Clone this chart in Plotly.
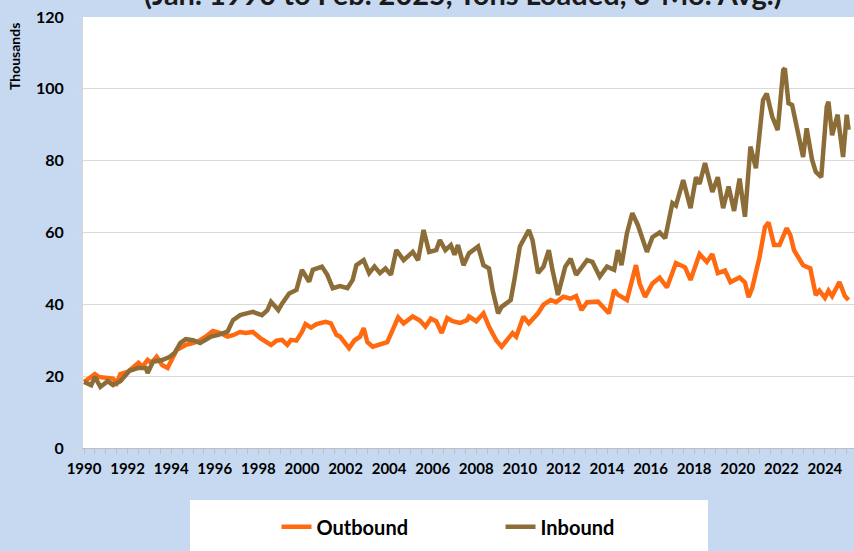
import plotly.graph_objects as go

# ---- data (thousand tons, 3-month average) ----
out_months = ["1990-01","1990-07","1990-09","1991-01","1991-05","1991-07","1991-09","1992-01","1992-04","1992-07",
 "1992-09","1992-12","1993-02","1993-05","1993-08","1993-11","1994-04","1994-07","1994-09","1995-01",
 "1995-05","1995-08","1995-12","1996-04","1996-08","1996-11","1997-03","1997-06","1997-10","1998-02",
 "1998-06","1998-08","1998-11","1999-02","1999-05","1999-07","1999-10","2000-01","2000-03","2000-06",
 "2000-09","2001-02","2001-05","2001-08","2001-10","2002-03","2002-06","2002-09","2002-11","2003-01",
 "2003-04","2003-08","2003-12","2004-03","2004-06","2004-09","2005-02","2005-06","2005-09","2005-12",
 "2006-03","2006-06","2006-09","2006-12","2007-04","2007-08","2007-09","2008-01","2008-05","2008-08",
 "2008-12","2009-03","2009-06","2009-09","2009-11","2010-03","2010-06","2010-11","2011-02","2011-06",
 "2011-09","2012-01","2012-05","2012-08","2012-11","2013-02","2013-08","2013-11","2014-02","2014-05",
 "2014-07","2014-12","2015-05","2015-07","2015-10","2016-02","2016-06","2016-10","2017-03","2017-08",
 "2017-11","2018-04","2018-08","2018-11","2019-02","2019-06","2019-09","2020-02","2020-05","2020-07",
 "2020-09","2021-01","2021-04","2021-06","2021-09","2021-12","2022-04","2022-06","2022-08","2023-01",
 "2023-05","2023-08","2023-10","2024-01","2024-03","2024-05","2024-09","2024-12","2025-02"]
outbound = [18.4,20.6,19.8,19.5,19.3,18.1,20.6,21.2,22.5,23.7,
 22.6,24.5,23.7,25.4,23.1,22.3,27.3,28.1,28.7,29.2,
 30.0,31.0,32.6,32.0,31.0,31.4,32.3,32.0,32.3,30.6,
 29.2,28.7,29.9,30.1,28.7,30.1,29.9,32.3,34.5,33.5,
 34.5,35.1,34.7,31.5,31.0,27.8,30.0,31.0,33.4,29.5,
 28.2,28.9,29.5,32.9,36.4,34.7,36.6,35.5,33.8,36.0,
 35.3,32.0,36.2,35.3,34.8,35.6,36.6,35.3,37.5,33.8,
 30.0,28.2,30.0,32.0,31.0,36.6,34.7,37.5,39.9,41.2,
 40.6,42.1,41.6,42.3,38.4,40.6,40.8,39.3,37.5,44.0,
 42.7,41.2,50.9,45.8,42.1,45.8,47.4,44.7,51.5,50.3,
 46.8,54.0,51.8,54.0,48.7,49.4,46.2,47.5,46.1,42.0,
 44.6,53.2,61.5,62.8,56.5,56.5,61.2,59.3,55.1,50.9,
 50.0,42.6,43.8,41.8,43.8,42.3,46.2,42.3,41.2]

in_months = ["1990-01","1990-05","1990-07","1990-10","1991-02","1991-05","1991-09","1991-12","1992-02","1992-07",
 "1992-11","1992-12","1993-03","1993-08","1993-12","1994-03","1994-06","1994-09","1995-01","1995-05",
 "1995-08","1995-11","1996-03","1996-08","1996-11","1997-03","1997-06","1997-10","1998-03","1998-06",
 "1998-08","1998-12","1999-02","1999-06","1999-10","2000-01","2000-05","2000-07","2000-12","2001-03",
 "2001-06","2001-10","2002-02","2002-05","2002-07","2002-11","2003-02","2003-05","2003-08","2003-11",
 "2004-02","2004-05","2004-09","2005-02","2005-05","2005-08","2005-11","2006-03","2006-05","2006-08",
 "2006-11","2007-01","2007-03","2007-06","2007-09","2008-02","2008-05","2008-08","2008-10","2009-01",
 "2009-03","2009-08","2009-10","2010-01","2010-03","2010-06","2010-08","2010-11","2011-02","2011-05",
 "2011-07","2011-10","2012-02","2012-05","2012-08","2013-02","2013-05","2013-09","2014-01","2014-05",
 "2014-07","2014-09","2014-12","2015-03","2015-06","2015-11","2016-02","2016-06","2016-09","2017-01",
 "2017-03","2017-07","2017-11","2018-02","2018-04","2018-07","2018-11","2019-02","2019-05","2019-08",
 "2019-11","2020-02","2020-05","2020-08","2020-11","2021-03","2021-05","2021-08","2021-11","2022-02",
 "2022-03","2022-05","2022-07","2022-11","2023-01","2023-03","2023-06","2023-08","2023-11","2024-02",
 "2024-03","2024-05","2024-08","2024-11","2025-01","2025-02"]
inbound = [18.4,17.5,19.8,17.0,18.6,17.5,18.6,20.6,21.5,22.3,
 22.3,20.9,24.0,24.5,25.3,26.5,29.2,30.3,30.0,29.2,
 30.0,31.0,31.5,32.4,35.6,37.0,37.4,37.9,37.0,38.4,
 40.7,38.4,40.2,43.0,44.0,49.6,46.3,49.6,50.5,48.2,
 44.5,45.1,44.5,46.8,50.9,52.3,48.7,50.5,48.7,50.0,
 48.2,55.1,52.3,54.6,52.3,60.7,54.6,55.1,57.9,55.1,
 56.5,53.8,56.5,50.9,54.2,56.1,50.9,50.0,44.0,37.5,
 39.3,41.2,46.8,56.1,57.9,60.7,57.9,48.7,50.5,55.1,
 49.6,42.6,50.5,52.7,48.2,52.3,51.8,47.7,50.5,49.6,
 55.1,50.9,59.8,65.4,62.1,54.6,58.7,60.0,58.4,68.2,
 67.5,74.6,66.8,75.4,73.5,79.3,71.3,75.4,66.8,72.8,
 66.0,75.0,64.4,83.9,77.9,96.9,98.7,92.3,88.5,105.2,
 105.7,96.0,95.5,86.6,81.0,89.0,80.2,76.9,75.4,95.0,
 96.4,87.1,92.8,81.0,92.8,88.6]

tick_years = list(range(1990, 2025, 2))
y_ticks = [0, 20, 40, 60, 80, 100, 120]

ORANGE = "#FF6A10"
BROWN = "#8C6D38"
FONT = "Lato"

fig = go.Figure()
fig.add_trace(go.Scatter(x=[m + "-01" for m in out_months], y=outbound, name="Outbound",
                         mode="lines", line=dict(color=ORANGE, width=4.5)))
fig.add_trace(go.Scatter(x=[m + "-01" for m in in_months], y=inbound, name="Inbound",
                         mode="lines", line=dict(color=BROWN, width=4.5)))

fig.update_layout(
    width=854, height=551,
    margin=dict(l=83, r=0, t=17, b=103, autoexpand=False),
    paper_bgcolor="#C6D9F1",
    plot_bgcolor="white",
    font=dict(family=FONT, color="black"),
    showlegend=True,
    legend=dict(orientation="h", x=0.251, xanchor="left", y=-0.183, yanchor="middle",
                bgcolor="rgba(0,0,0,0)", font=dict(family=FONT, size=20, weight="bold", color="black"),
                entrywidth=179, entrywidthmode="pixels", itemwidth=30),
    xaxis=dict(type="date", range=["1989-12-14", "2025-05-03"], automargin=False,
               tickvals=[f"{y}-01-01" for y in tick_years], ticktext=[str(y) for y in tick_years],
               tickfont=dict(family=FONT, size=15, weight="bold", color="black"),
               showgrid=False, showline=True, linecolor="#BFBFBF", linewidth=1,
               ticks="outside", ticklen=5, tickcolor="#BFBFBF", ticklabelstandoff=2,
               minor=dict(dtick="M6", ticks="outside", ticklen=5, tickcolor="#BFBFBF", showgrid=False),
               fixedrange=True),
    yaxis=dict(range=[0, 120], tickvals=y_ticks, automargin=False,
               tickfont=dict(family=FONT, size=16, weight="bold", color="black"),
               showgrid=True, gridcolor="#D9D9D9", gridwidth=1,
               ticks="outside", ticklen=8, tickcolor="#D9D9D9", ticklabelstandoff=7,
               showline=True, linecolor="#D9D9D9", zeroline=False, fixedrange=True),
    shapes=[dict(type="rect", xref="paper", yref="paper", x0=0.1388, x1=0.8106, y0=-0.1206, y1=-0.30,
                 fillcolor="white", line=dict(width=0), layer="below")],
    annotations=[
        dict(text="(Jan. 1990 to Feb. 2025, Tons Loaded, 3-Mo. Avg.)", xref="paper", yref="paper",
             x=(463 - 83) / 771, y=1.0, yshift=4, xanchor="center", yanchor="bottom", showarrow=False,
             font=dict(family=FONT, size=29, weight="bold", color="#1a1a1a")),
        dict(text="Thousands", xref="paper", yref="paper", x=(14 - 83) / 771, y=(448 - 57) / 431,
             xanchor="center", yanchor="middle", textangle=-90, showarrow=False,
             font=dict(family=FONT, size=14, weight="bold", color="black")),
    ],
)

fig.write_html("out.html", config={"displayModeBar": False},
               post_script="document.body.style.margin='0';document.body.style.overflow='hidden';")
